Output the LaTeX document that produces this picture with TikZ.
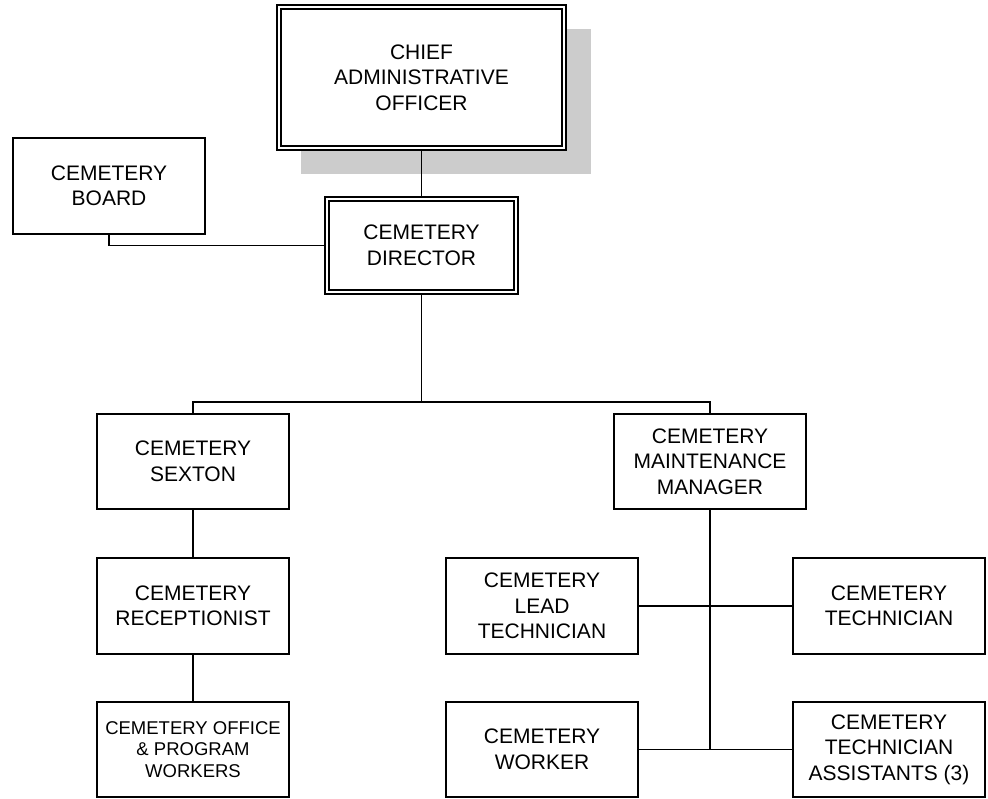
\documentclass[tikz,border=0pt]{standalone}
\usepackage{fontspec}
\setmainfont{Liberation Sans}
\definecolor{shadowgray}{RGB}{204,204,204}
\newcommand{\boxfont}{\fontsize{21}{25.5}\selectfont}
\newcommand{\smallboxfont}{\fontsize{18.5}{21.7}\selectfont}
\begin{document}
\begin{tikzpicture}[x=1pt,y=1pt,
  orgbox/.style={draw, line width=1.8pt, fill=white, minimum width=192pt, minimum height=96pt, inner sep=0pt, align=center, font=\boxfont},
  link/.style={line width=1.8pt},
  innerframe/.style={line width=1.6pt}]
\useasboundingbox (0,0) rectangle (988,-798);
% shadow
\fill[shadowgray] (301,-29) rectangle (591,-174);
% nodes
\node[orgbox, minimum width=289pt, minimum height=145pt] (chief) at (421.5,-77.5) {CHIEF\\ADMINISTRATIVE\\OFFICER};
\draw[innerframe] ([shift={(5,-5)}]chief.north west) rectangle ([shift={(-5,5)}]chief.south east);
\node[orgbox, minimum width=193pt, minimum height=97pt] (director) at (421.5,-245.5) {CEMETERY\\DIRECTOR};
\draw[innerframe] ([shift={(5,-5)}]director.north west) rectangle ([shift={(-5,5)}]director.south east);
\node[orgbox] (board) at (109,-186) {CEMETERY\\BOARD};
\node[orgbox, minimum height=95pt] (sexton) at (193,-461.5) {CEMETERY\\SEXTON};
\node[orgbox, minimum height=95pt] (manager) at (710,-461.5) {CEMETERY\\MAINTENANCE\\MANAGER};
\node[orgbox] (reception) at (193,-606) {CEMETERY\\RECEPTIONIST};
\node[orgbox, minimum height=95pt, font=\smallboxfont] (office) at (193,-749.5) {CEMETERY OFFICE\\\& PROGRAM\\WORKERS};
\node[orgbox] (lead) at (542,-606) {CEMETERY\\LEAD\\TECHNICIAN};
\node[orgbox] (tech) at (889,-606) {CEMETERY\\TECHNICIAN};
\node[orgbox, minimum height=95pt] (worker) at (542,-749.5) {CEMETERY\\WORKER};
\node[orgbox, minimum height=95pt] (assist) at (889,-749.5) {CEMETERY\\TECHNICIAN\\ASSISTANTS (3)};
% junctions
\coordinate (split) at (421.5,-402);
\coordinate (mend) at (710,-749.5);
% connectors
\draw[link] (chief.south) -- (director.north);
\draw[link] (board.south) |- (director.west);
\draw[link] (director.south) -- (split);
\draw[link] (sexton.north) |- (split) -| (manager.north);
\draw[link] (sexton.south) -- (reception.north);
\draw[link] (reception.south) -- (office.north);
\draw[link] (manager.south) -- (mend);
\draw[link] (lead.east) -- (tech.west);
\draw[link] (worker.east) -- (assist.west);
\end{tikzpicture}
\end{document}
